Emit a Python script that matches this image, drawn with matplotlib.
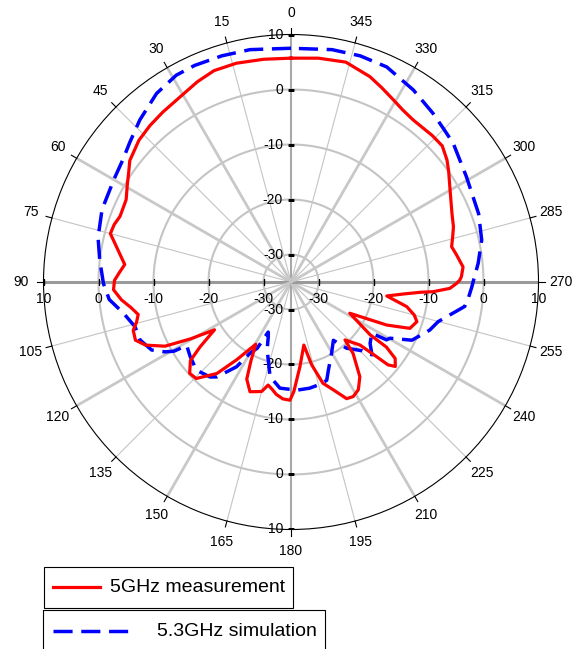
import numpy as np
import matplotlib
matplotlib.use('Agg')
import matplotlib.pyplot as plt
from matplotlib.transforms import offset_copy
from matplotlib.patches import Rectangle

plt.rcParams['font.family'] = ['Liberation Sans', 'DejaVu Sans']

# radiation pattern, angle in degrees (counter clockwise from top), gain in dB
red_angle = [0, 7, 14, 20, 25, 29, 33, 37, 42, 47, 53, 56, 59, 63.5, 69, 72, 75, 79.5, 84, 87,
             89.5, 92.5, 96, 99, 102, 104.5, 107, 110.5, 113.5, 117, 119.5, 122, 125.5, 128,
             132, 135.5, 141, 145, 150.5, 153, 155.5, 159.5, 162.5, 165, 167.5, 170, 172.5,
             176, 179.5, 181.5, 186, 191.5, 194, 197.5, 201.5, 205.5, 208.5, 212, 216, 221,
             223, 227.6, 228.9, 229.5, 231, 233.7, 235.7, 236.3, 242, 245.8, 248.7, 252.5,
             255, 258, 261.7, 264, 265.5, 266.1, 267.7, 269.5, 270.7, 271.8, 275, 279.3,
             282.4, 285.5, 288.8, 293, 300, 305, 308, 312, 316, 323, 327, 330.7, 335, 339,
             346, 353, 360]
red_db = [5.7, 5.8, 6.0, 5.9, 5.2, 4.5, 4.0, 3.7, 3.3, 2.8, 1.7, 0.6, -0.3, -1.5, -1.7, -1.2,
          -1.0, -3.0, -4.6, -3.7, -2.9, -2.7, -4.0, -5.5, -6.6, -6.0, -5.0, -4.8, -6.2, -9.3,
          -14.0, -18.6, -14.7, -11.8, -10.2, -10.4, -13.6, -17.7, -22.0, -19.0, -15.6, -13.7,
          -14.1, -14.4, -15.8, -15.2, -14.4, -13.7, -13.5, -15.1, -19.5, -23.3, -19.5, -15.7,
          -13.9, -11.5, -11.3, -11.9, -13.7, -17.8, -20.6, -18.0, -14.3, -11.8, -10.6, -11.5,
          -14.0, -17.7, -22.9, -15.9, -11.8, -11.0, -11.8, -13.5, -17.4, -14.3, -11.3, -9.1,
          -6.1, -4.9, -4.3, -4.0, -3.6, -4.5, -5.1, -4.5, -3.8, -3.2, -1.6, 0.0, 1.0, 2.0,
          2.0, 1.9, 2.3, 3.0, 4.0, 5.0, 6.2, 6.0, 5.7]

blue_angle = [0, 10, 17, 24, 29, 35.5, 43, 49, 54, 60, 69, 77, 83.5, 90.5, 95.5, 100.5, 106,
              111, 116, 119, 120.6, 121.3, 126.5, 133, 139.5, 142, 145.3, 147.3, 150, 153,
              155.5, 157.5, 160.5, 163.8, 167.5, 174, 183, 190, 197, 200, 203, 209.7, 216,
              220, 226, 228, 232.2, 237.6, 238.8, 240.4, 244.3, 250.9, 254.9, 258.3, 262,
              265, 268.5, 270, 275.7, 282.4, 290, 301, 310.5, 315, 320, 327.5, 336, 343,
              350, 360]
blue_db = [7.5, 7.9, 8.0, 8.1, 8.0, 7.1, 5.3, 3.8, 2.8, 2.2, 1.8, 1.0, 0.0, -0.9, -1.8, -4.0,
           -5.5, -5.6, -6.8, -8.8, -10.3, -12.8, -12.2, -11.5, -12.3, -13.1, -15.5, -16.7,
           -20.0, -21.5, -25.0, -24.2, -22.0, -20.2, -17.4, -15.6, -15.3, -15.4, -15.7, -16.0,
           -17.6, -20.1, -21.9, -19.3, -17.0, -15.2, -16.8, -17.6, -14.7, -14.3, -10.6, -8.3,
           -7.3, -5.5, -3.1, -2.6, -2.1, -1.9, -0.8, 0.5, 1.3, 2.2, 3.8, 4.3, 5.1, 6.4, 7.8,
           8.0, 7.9, 7.5]

rings = [-30, -20, -10, 0]
r_labels = [10, 0, -10, -20, -30]
r_min, r_max = -35, 10
angle_ticks = list(range(0, 360, 15))

fig = plt.figure(figsize=(5.84, 6.49), dpi=100)
ax = fig.add_axes([0.07449, 0.18413, 0.84760, 0.76271], projection='polar')
ax.set_theta_zero_location('N')
ax.set_theta_direction(1)
ax.set_ylim(r_min, r_max)
ax.grid(False)
ax.set_xticks([])
ax.set_yticks([])
ax.spines['polar'].set_color('black')
ax.spines['polar'].set_linewidth(0.8)

# grid circles
circ = np.linspace(0, 2 * np.pi, 361)
for r in rings:
    ax.plot(circ, np.full_like(circ, r), color='#c4c4c4', lw=1.5, zorder=1)

# spokes every 15 deg
for a in angle_ticks:
    t = np.deg2rad(a)
    if a % 180 == 0:
        col, lw = '#a8a8a8', 1.5
    elif a % 90 == 0:
        col, lw = '#9a9a9a', 2.2
    elif a % 30 == 0:
        col, lw = '#c8c8c8', 2.0
    else:
        col, lw = '#c4c4c4', 0.8
    ax.plot([t, t], [r_min, r_max], color=col, lw=lw, zorder=1)
    # outer tick + label
    ax.plot([t, t], [r_max, r_max + 1.1], color='black', lw=0.8, clip_on=False)
    ax.text(t, r_max + 4.0, str(a), ha='center', va='center', fontsize=10, clip_on=False)

# radial labels along both axes
left_tr = offset_copy(ax.transData, fig=fig, x=-8, y=0, units='dots')
down_tr = offset_copy(ax.transData, fig=fig, x=0, y=-10, units='dots')
for r in r_labels:
    for a in (0, 180):
        ax.text(np.deg2rad(a), r, str(r), transform=left_tr, ha='right', va='center', fontsize=10)
        ax.plot([np.deg2rad(a)], [r], marker='_', ms=5, mew=1.8, color='black', zorder=2)
    for a in (90, 270):
        ax.text(np.deg2rad(a), r, str(r), transform=down_tr, ha='center', va='top', fontsize=10)
        ax.plot([np.deg2rad(a)], [r], marker='|', ms=5, mew=1.0, color='black', zorder=2)

ax.plot(np.deg2rad(red_angle), red_db, color='#ff0000', lw=2.3, zorder=4)
ax.plot(np.deg2rad(blue_angle), blue_db, color='#0000ff', lw=2.5, ls=(0, (5.5, 2.5)), zorder=3)

# legend boxes drawn by hand, pixel coords
lg = fig.add_axes([0, 0, 1, 1])
lg.set_xlim(0, 584)
lg.set_ylim(649, 0)
lg.axis('off')
lg.add_patch(Rectangle((44, 567), 249, 41, fill=False, ec='black', lw=0.8))
lg.add_patch(Rectangle((43, 610), 282, 50, fill=False, ec='black', lw=0.8))
lg.plot([53, 100], [587, 587], color='#ff0000', lw=2.3)
lg.text(110, 588, '5GHz measurement', fontsize=14, va='center', ha='left')
lg.plot([53, 128], [631, 631], color='#0000ff', lw=2.5, ls=(0, (5.5, 2.5)))
lg.text(157, 632, '5.3GHz simulation', fontsize=14, va='center', ha='left')

fig.savefig('out.png', dpi=100)
